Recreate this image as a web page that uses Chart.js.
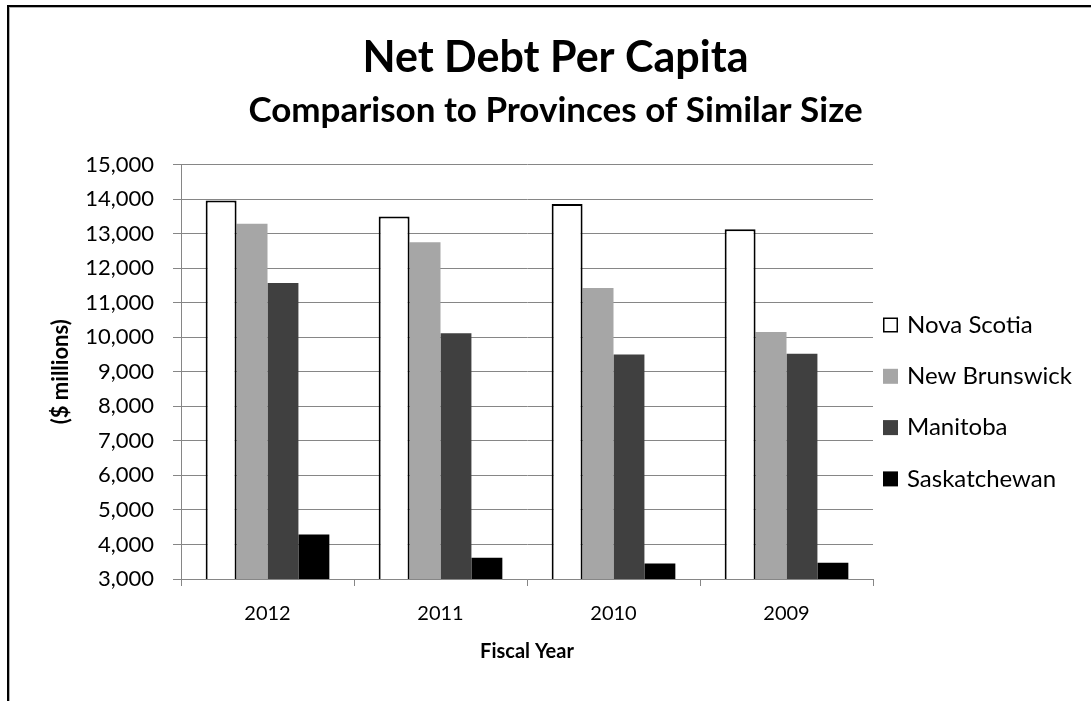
<!DOCTYPE html>
<html>
<head>
<meta charset="utf-8">
<script src="https://cdn.jsdelivr.net/npm/chart.js@4.4.1/dist/chart.umd.min.js"></script>
<style>
  html, body { margin: 0; padding: 0; background: #fff; }
  #wrap { position: absolute; left: 0; top: 0; width: 1091px; height: 701px; }
  #frame {
    position: absolute; left: 7px; top: 5px; width: 1100px; height: 720px;
    border-top: 2.5px solid #000; border-left: 2.5px solid #000;
    box-shadow: inset 1px 1px 0 #b0b0b0;
    pointer-events: none;
  }
</style>
</head>
<body>
<div id="wrap">
  <canvas id="debtChart"></canvas>
</div>
<div id="frame"></div>
<script>
// values (net debt per capita, $)
var fiscalYears = ['2012', '2011', '2010', '2009'];
var novaScotia = [13960, 13500, 13860, 13130];
var newBrunswick = [13290, 12750, 11430, 10150];
var manitoba = [11570, 10115, 9500, 9520];
var saskatchewan = [4290, 3615, 3450, 3470];

var yMin = 3000;
var yMax = 15000;
var yStep = 1000;

Chart.defaults.font.family = 'Lato';
Chart.defaults.color = '#000';

var gridGrey = '#868686';

// legend drawn by hand so the item spacing can follow the original
var sideLegend = {
    id: 'sideLegend',
    afterDraw: function (chart) {
        var ctx = chart.ctx;
        var area = chart.chartArea;
        var boxX = area.right + 10;
        var startY = 325;
        var gap = 51.3;
        var box = 15;
        ctx.save();
        ctx.font = '24px Lato';
        ctx.textBaseline = 'middle';
        ctx.textAlign = 'left';
        chart.data.datasets.forEach(function (ds, i) {
            var cy = startY + i * gap;
            ctx.fillStyle = ds.backgroundColor;
            ctx.fillRect(boxX, cy - box / 2, box, box);
            if (ds.borderWidth) {
                ctx.strokeStyle = ds.borderColor;
                ctx.lineWidth = 1.5;
                ctx.strokeRect(boxX + 0.75, cy - box / 2 + 0.75, box - 1.5, box - 1.5);
            }
            ctx.fillStyle = '#000';
            ctx.fillText(ds.label, boxX + box + 9, cy);
        });
        ctx.restore();
    }
};

var ctx = document.getElementById('debtChart').getContext('2d');
var debtChart = new Chart(ctx, {
    type: 'bar',
    data: {
        labels: fiscalYears,
        datasets: [
            { label: 'Nova Scotia', data: novaScotia, backgroundColor: '#ffffff', borderColor: '#000000', borderWidth: 2, borderSkipped: false },
            { label: 'New Brunswick', data: newBrunswick, backgroundColor: '#a6a6a6', borderWidth: 0 },
            { label: 'Manitoba', data: manitoba, backgroundColor: '#404040', borderWidth: 0 },
            { label: 'Saskatchewan', data: saskatchewan, backgroundColor: '#000000', borderWidth: 0 }
        ]
    },
    options: {
        responsive: true,
        maintainAspectRatio: false,
        animation: false,
        layout: {
            padding: { top: 0, left: 20, right: 0, bottom: 30 }
        },
        datasets: {
            bar: { categoryPercentage: 0.715, barPercentage: 1.0 }
        },
        plugins: {
            legend: { display: false },
            tooltip: { enabled: false },
            title: {
                display: true,
                text: 'Net Debt Per Capita',
                font: { size: 43, weight: 'bold' },
                color: '#000',
                padding: { top: 32, bottom: 6 }
            },
            subtitle: {
                display: true,
                text: 'Comparison to Provinces of Similar Size',
                font: { size: 35, weight: 'bold' },
                color: '#000',
                padding: { top: 0, bottom: 33 }
            }
        },
        scales: {
            x: {
                offset: true,
                grid: {
                    drawOnChartArea: false,
                    drawTicks: true,
                    tickLength: 7,
                    color: gridGrey,
                    offset: true
                },
                border: { color: gridGrey, width: 1 },
                ticks: { font: { size: 20 }, padding: 16, color: '#000' },
                title: {
                    display: true,
                    text: 'Fiscal Year',
                    font: { size: 20, weight: 'bold' },
                    color: '#000',
                    padding: { top: 8, bottom: 7 }
                },
                afterFit: function (scale) { scale.height = 92; }
            },
            y: {
                min: yMin,
                max: yMax,
                grid: { color: gridGrey, lineWidth: 1, tickLength: 8 },
                border: { color: gridGrey, width: 1 },
                ticks: {
                    stepSize: yStep,
                    font: { size: 22 },
                    padding: 19,
                    color: '#000',
                    callback: function (v) { return v.toLocaleString('en-US'); }
                },
                title: {
                    display: true,
                    text: '($ millions)',
                    font: { size: 22, weight: 'bold' },
                    color: '#000',
                    padding: { top: 28, bottom: 4 }
                },
                afterFit: function (scale) { scale.width = 161; }
            },
            // empty scale on the right that only keeps room for the legend
            legendSpace: {
                type: 'linear',
                position: 'right',
                display: true,
                grid: { display: false },
                border: { display: false },
                ticks: { display: false },
                afterFit: function (scale) { scale.width = 218; }
            }
        }
    },
    plugins: [sideLegend]
});
</script>
</body>
</html>
